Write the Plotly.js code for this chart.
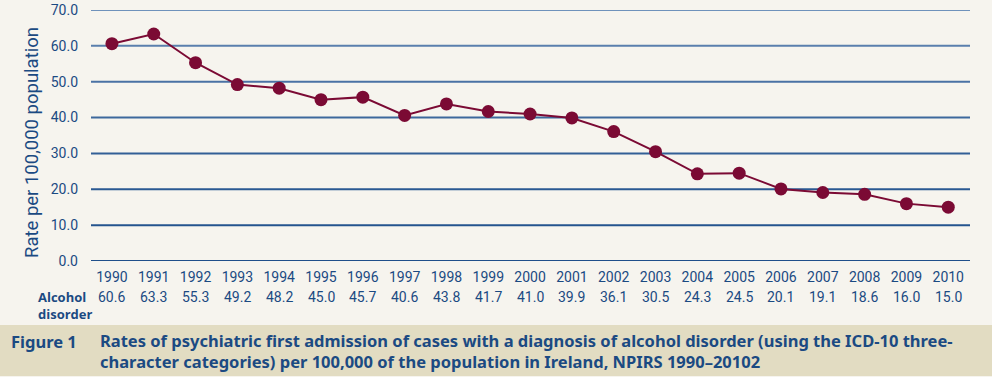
<!DOCTYPE html>
<html>
<head>
<meta charset="utf-8">
<script src="https://cdn.plot.ly/plotly-3.0.1.min.js"></script>
<style>
html,body{margin:0;padding:0;background:#f6f4ee;}
#chart{width:992px;height:377px;}
</style>
</head>
<body>
<div id="chart"></div>
<script>
const years = [1990,1991,1992,1993,1994,1995,1996,1997,1998,1999,2000,2001,2002,2003,2004,2005,2006,2007,2008,2009,2010];
const rates = [60.6,63.3,55.3,49.2,48.2,45.0,45.7,40.6,43.8,41.7,41.0,39.9,36.1,30.5,24.3,24.5,20.1,19.1,18.6,16.0,15.0];
const yTicks = [0,10,20,30,40,50,60,70];
const seriesLabel = "Alcohol<br>disorder";
const yTitle = "Rate per 100,000 population";
const captionLabel = "Figure 1";
const captionText = "Rates of psychiatric first admission of cases with a diagnosis of alcohol disorder (using the ICD-10 three-<br>character categories) per 100,000 of the population in Ireland, NPIRS 1990–20102";

const blue = "#1b4a82";
const tickFont = {family: "Roboto, 'DejaVu Sans', sans-serif", size: 14, color: blue};
const capFont = {family:"'Noto Sans', 'Open Sans', sans-serif", size:16.5, color:blue};

const gridColors = ["#1f4f8a","#24548e","#2a5992","#325f96","#3d689c","#4a72a4","#5a7fad","#6f92bb"];
const shapes = yTicks.map((v,i)=>({
  type:"line", xref:"paper", yref:"y", x0:0, x1:1, y0:v, y1:v,
  line:{color:gridColors[i], width:2}, layer:"below"
}));
// caption band
shapes.push({type:"rect", xref:"paper", yref:"paper", x0:-91/879, x1:1+22/879,
  y0:-(377-261-1)/251, y1:-(325-261)/251, fillcolor:"#e2dcc2", line:{width:0}, layer:"below"});

const annotations = years.map((yr,i)=>({
  x: yr, y: -(297-261)/251, xref:"x", yref:"paper",
  text: rates[i].toFixed(1), showarrow:false, font:tickFont, xanchor:"center", yanchor:"middle"
}));
annotations.push({x:-(91-36)/879, y:-(305-261)/251, xref:"paper", yref:"paper", text:"<b>"+seriesLabel+"</b>",
  showarrow:false, align:"left", xanchor:"left", yanchor:"middle",
  font:{family:"'Open Sans', 'Noto Sans', sans-serif", size:13, color:blue}});
annotations.push({x:-(91-9)/879, y:-(341-261)/251, xref:"paper", yref:"paper", text:"<b>"+captionLabel+"</b>",
  showarrow:false, xanchor:"left", yanchor:"middle", font:capFont});
annotations.push({x:-(91-98)/879, y:-(351-261)/251, xref:"paper", yref:"paper", text:"<b>"+captionText+"</b>",
  showarrow:false, xanchor:"left", yanchor:"middle", align:"left", font:capFont});
annotations.push({x:-(91-32)/879, y:(261-143)/251, xref:"paper", yref:"paper", text:yTitle, textangle:-90,
  showarrow:false, xanchor:"center", yanchor:"middle",
  font:{family:"Roboto, 'DejaVu Sans', sans-serif", size:18.5, color:blue}});

const trace = {
  x: years, y: rates, type:"scatter", mode:"lines+markers",
  line:{color:"#7b0a34", width:2},
  marker:{color:"#7b0a34", size:13},
  hoverinfo:"x+y"
};

const layout = {
  width:992, height:377,
  margin:{l:91, r:22, t:10, b:116},
  paper_bgcolor:"#f6f4ee", plot_bgcolor:"#f6f4ee",
  showlegend:false,
  xaxis:{range:[1989.5,2010.52], tickvals:years, ticktext:years.map(String), showgrid:false, zeroline:false,
    showline:false, ticks:"", tickfont:tickFont, ticklabelstandoff:6},
  yaxis:{range:[0,70], tickvals:yTicks, ticktext:yTicks.map(v=>v.toFixed(1)), showgrid:false, zeroline:false,
    showline:false, ticks:"", tickfont:tickFont, ticklabelstandoff:12},
  shapes: shapes,
  annotations: annotations
};

Plotly.newPlot("chart",[trace],layout,{displayModeBar:false, staticPlot:true});
</script>
</body>
</html>
